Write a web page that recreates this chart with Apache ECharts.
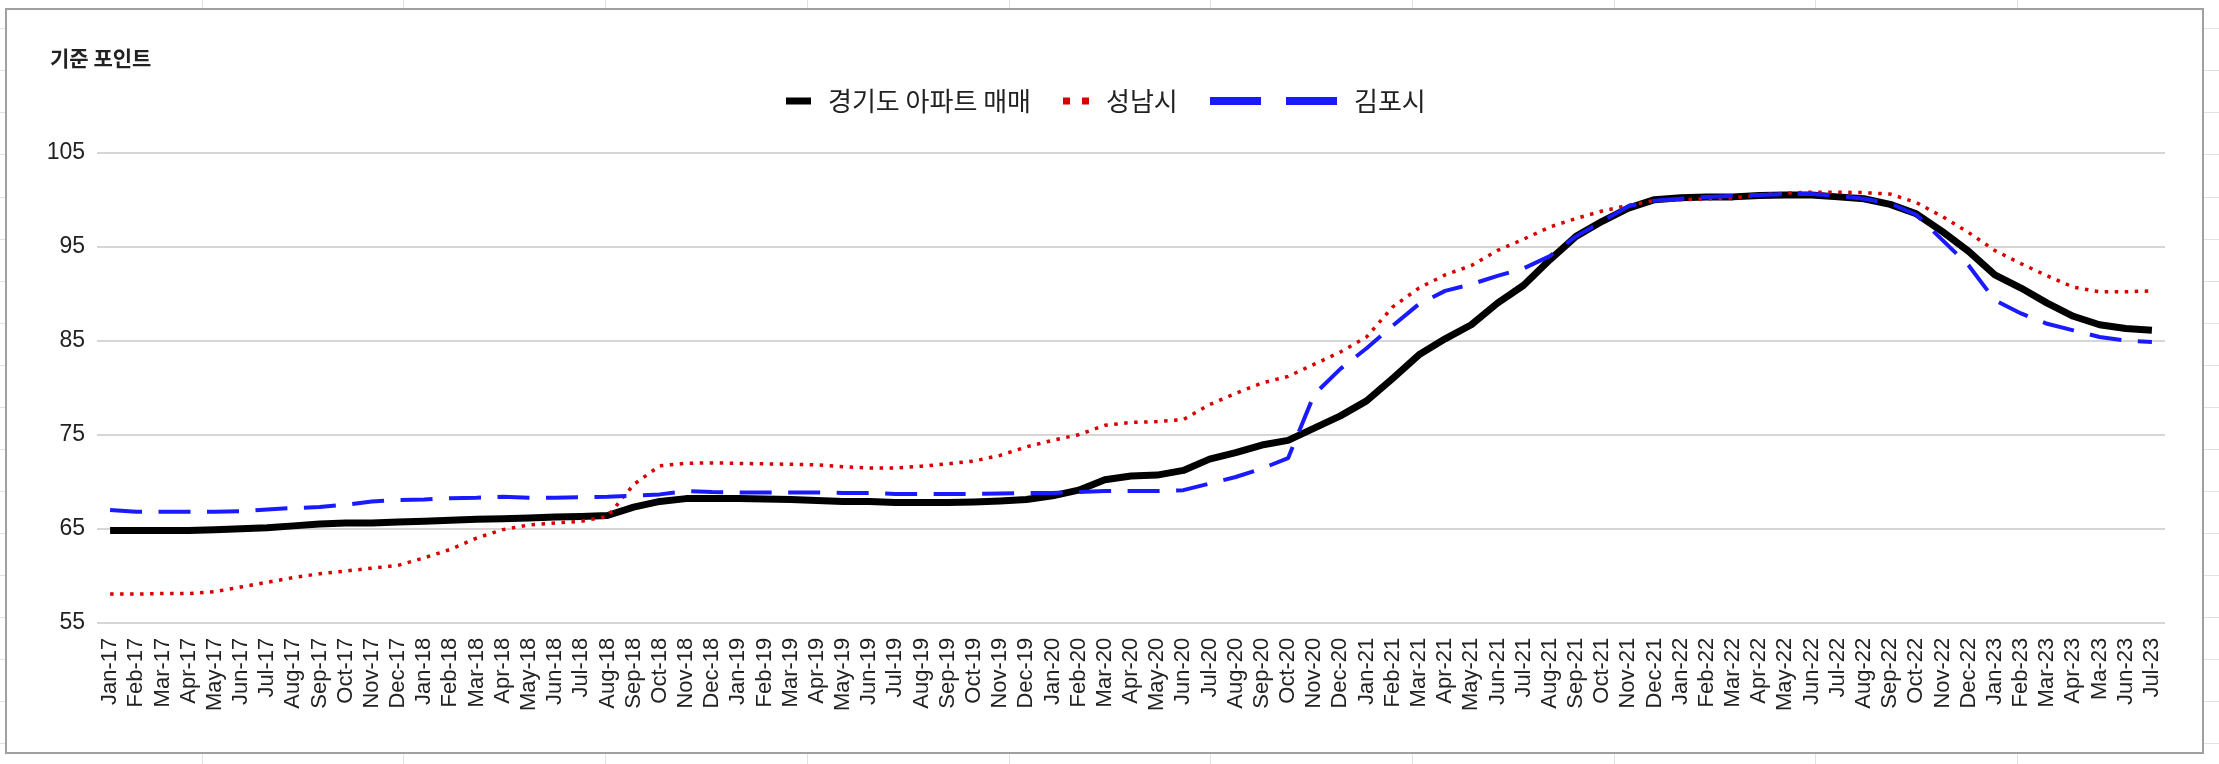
<!DOCTYPE html>
<html>
<head>
<meta charset="utf-8">
<script src="https://cdn.jsdelivr.net/npm/echarts@6/dist/echarts.min.js"></script>
<style>
html,body{margin:0;padding:0;background:#fff;}
#c{width:2219px;height:764px;}
</style>
</head>
<body>
<div id="c"></div>
<script>
const categories = [
 'Jan-17','Feb-17','Mar-17','Apr-17','May-17','Jun-17','Jul-17','Aug-17','Sep-17','Oct-17','Nov-17','Dec-17',
 'Jan-18','Feb-18','Mar-18','Apr-18','May-18','Jun-18','Jul-18','Aug-18','Sep-18','Oct-18','Nov-18','Dec-18',
 'Jan-19','Feb-19','Mar-19','Apr-19','May-19','Jun-19','Jul-19','Aug-19','Sep-19','Oct-19','Nov-19','Dec-19',
 'Jan-20','Feb-20','Mar-20','Apr-20','May-20','Jun-20','Jul-20','Aug-20','Sep-20','Oct-20','Nov-20','Dec-20',
 'Jan-21','Feb-21','Mar-21','Apr-21','May-21','Jun-21','Jul-21','Aug-21','Sep-21','Oct-21','Nov-21','Dec-21',
 'Jan-22','Feb-22','Mar-22','Apr-22','May-22','Jun-22','Jul-22','Aug-22','Sep-22','Oct-22','Nov-22','Dec-22',
 'Jan-23','Feb-23','Mar-23','Apr-23','Ma-23','Jun-23','Jul-23'
];

const gyeonggi = [
 64.8,64.8,64.8,64.8,64.9,65.0,65.1,65.3,65.5,65.6,65.6,65.7,
 65.8,65.9,66.0,66.05,66.15,66.25,66.3,66.4,67.3,67.9,68.2,68.2,
 68.2,68.15,68.1,68.0,67.9,67.9,67.8,67.8,67.8,67.85,67.95,68.1,
 68.5,69.1,70.2,70.6,70.7,71.2,72.4,73.1,73.9,74.4,75.7,77.0,
 78.6,81.0,83.5,85.2,86.7,89.0,90.9,93.6,96.1,97.7,99.1,100.0,
 100.2,100.3,100.3,100.45,100.5,100.5,100.3,100.1,99.5,98.5,96.6,94.5,
 92.0,90.6,89.0,87.6,86.7,86.3,86.1
];

const seongnam = [
 58.05,58.05,58.1,58.1,58.3,58.8,59.3,59.8,60.2,60.5,60.8,61.1,
 61.9,62.8,64.0,64.9,65.4,65.6,65.8,66.3,69.7,71.7,71.95,72.0,
 71.95,71.9,71.85,71.8,71.6,71.45,71.45,71.65,71.9,72.2,72.8,73.7,
 74.4,75.0,76.0,76.3,76.4,76.6,78.2,79.4,80.5,81.2,82.5,83.8,
 85.4,88.6,90.6,92.0,93.0,94.6,95.8,97.1,98.0,98.8,99.4,99.9,
 100.0,100.1,100.2,100.5,100.7,100.8,100.8,100.75,100.6,99.7,98.2,96.5,
 94.6,93.2,91.9,90.7,90.2,90.2,90.3
];

const gimpo = [
 67.0,66.8,66.8,66.8,66.8,66.85,67.05,67.2,67.3,67.55,67.9,68.05,
 68.1,68.25,68.3,68.4,68.3,68.3,68.35,68.4,68.5,68.65,69.0,68.9,
 68.85,68.85,68.85,68.85,68.8,68.8,68.7,68.7,68.7,68.7,68.75,68.8,
 68.8,68.9,69.0,69.0,69.0,69.1,69.8,70.5,71.4,72.5,79.3,82.0,
 84.2,86.6,88.9,90.3,91.0,91.9,92.7,94.0,96.1,97.7,99.3,99.9,
 100.1,100.3,100.4,100.5,100.6,100.6,100.4,100.1,99.6,98.4,95.7,93.0,
 89.3,87.9,86.8,86.1,85.4,85.0,84.85
];

const yTicks = { min: 55, max: 105, interval: 10 };
const titleText = '기준 포인트';
const seriesNames = ['경기도 아파트 매매', '성남시', '김포시'];

// decorative spreadsheet cell lines outside the chart frame
const deco = [];
const cellLine = { stroke: '#e2e2e2', lineWidth: 1 };
for (let k = 1; k <= 10; k++) {
  const x = Math.round(k * 201.7) + 0.5;
  deco.push({ type: 'line', silent: true, shape: { x1: x, y1: 0, x2: x, y2: 8 }, style: cellLine });
  deco.push({ type: 'line', silent: true, shape: { x1: x, y1: 754, x2: x, y2: 764 }, style: cellLine });
}
for (let k = 0; k < 18; k++) {
  const y = Math.round(28.3 + k * 42.05) + 0.5;
  deco.push({ type: 'line', silent: true, shape: { x1: 0, y1: y, x2: 5, y2: y }, style: cellLine });
  deco.push({ type: 'line', silent: true, shape: { x1: 2204, y1: y, x2: 2219, y2: y }, style: cellLine });
}
deco.push({ type: 'rect', silent: true, shape: { x: 6, y: 9, width: 2197, height: 744 },
  style: { fill: null, stroke: '#a0a0a0', lineWidth: 2 } });

const legendText = { fontSize: 26, color: '#222', fontFamily: 'Noto Sans CJK KR', padding: [0, 0, 0, 12], lineHeight: 28 };

const chart = echarts.init(document.getElementById('c'));
chart.setOption({
  animation: false,
  backgroundColor: '#fff',
  title: {
    text: titleText, left: 45, top: 43,
    textStyle: { fontSize: 21, fontWeight: 'bold', color: '#222', fontFamily: 'Noto Sans CJK KR' }
  },
  graphic: deco,
  legend: [
    { data: [seriesNames[0]], left: 786, top: 87, padding: 0, itemWidth: 25, itemHeight: 7, icon: 'rect',
      itemStyle: { borderWidth: 0 }, selectedMode: false, textStyle: legendText },
    { data: [seriesNames[1]], left: 1063, top: 87, padding: 0, itemWidth: 26, itemHeight: 7,
      icon: 'path://M0,0h7v7h-7zM19,0h7v7h-7z', itemStyle: { borderWidth: 0 }, selectedMode: false, textStyle: legendText },
    { data: [seriesNames[2]], left: 1210, top: 87, padding: 0, itemWidth: 127, itemHeight: 8,
      icon: 'path://M0,0h51v8h-51zM76,0h51v8h-51z', itemStyle: { borderWidth: 0 }, selectedMode: false, textStyle: legendText }
  ],
  grid: { left: 97, right: 54, top: 152.7, bottom: 141.3, containLabel: false },
  xAxis: {
    type: 'category', data: categories, boundaryGap: true,
    axisLine: { show: false }, axisTick: { show: false },
    axisLabel: { rotate: 90, interval: 0, margin: 15, fontSize: 22, color: '#222', fontFamily: 'Liberation Sans' },
    splitLine: { show: false }
  },
  yAxis: {
    type: 'value', min: yTicks.min, max: yTicks.max, interval: yTicks.interval,
    axisLine: { show: false }, axisTick: { show: false },
    axisLabel: { margin: 12, fontSize: 23, color: '#222', fontFamily: 'Liberation Sans' },
    splitLine: { lineStyle: { color: '#c8c8c8', width: 1.5 } }
  },
  series: [
    { name: seriesNames[0], type: 'line', data: gyeonggi, showSymbol: false, symbol: 'none',
      itemStyle: { color: '#000000' }, lineStyle: { color: '#000000', width: 7, join: 'round' } },
    { name: seriesNames[1], type: 'line', data: seongnam, showSymbol: false, symbol: 'none',
      itemStyle: { color: '#d80000' }, lineStyle: { color: '#d80000', width: 3.5, type: [3.5, 6.5], cap: 'butt' } },
    { name: seriesNames[2], type: 'line', data: gimpo, showSymbol: false, symbol: 'none',
      itemStyle: { color: '#1a1aff' }, lineStyle: { color: '#1a1aff', width: 4, type: [32, 16.5], cap: 'butt' } }
  ]
});
</script>
</body>
</html>
